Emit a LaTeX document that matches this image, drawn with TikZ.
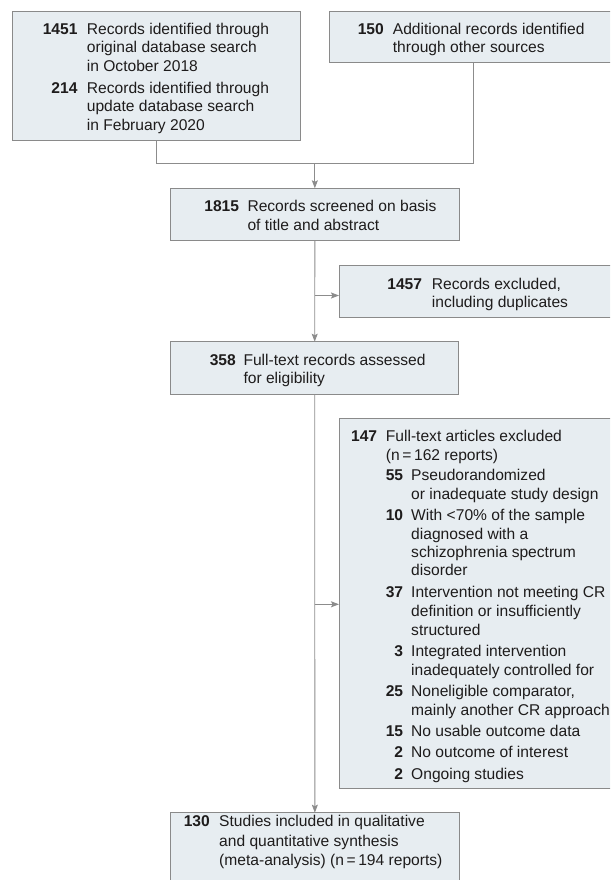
\documentclass[tikz,border=0pt]{standalone}
\usepackage{fontspec}
\setmainfont{Liberation Sans}
\usetikzlibrary{arrows.meta}
\definecolor{boxfill}{RGB}{231,237,241}
\definecolor{boxline}{RGB}{138,138,138}
\definecolor{conn}{RGB}{140,140,140}
\definecolor{ink}{RGB}{30,28,28}
\begin{document}
\begin{tikzpicture}[x=1pt,y=-1pt,
  box/.style={draw=boxline, fill=boxfill, line width=0.9pt, anchor=north west, inner sep=0pt, outer sep=0pt},
  link/.style={draw=conn, line width=0.9pt},
  arr/.style={link, -{Stealth[length=8pt,width=6pt,inset=1.5pt]}},
  num/.style={anchor=base east, inner sep=0pt, text=ink, font=\fontsize{15.6}{18}\selectfont\bfseries},
  txt/.style={anchor=base west, inner sep=0pt, text=ink, font=\fontsize{15.6}{18}\selectfont}]
\useasboundingbox (0,0) rectangle (610,880);
\clip (0,0) rectangle (610,880);
% boxes
\node[box, minimum width=288pt, minimum height=129pt] (b1) at (12,11) {};
\node[box, minimum width=287.7pt, minimum height=51.7pt] (b2) at (329.3,11) {};
\node[box, minimum width=288.3pt, minimum height=51.7pt] (b3) at (170.7,188.3) {};
\node[box, minimum width=278pt, minimum height=52pt] (b4) at (339,265) {};
\node[box, minimum width=288pt, minimum height=52.3pt] (b5) at (170.7,341.7) {};
\node[box, minimum width=278pt, minimum height=369.6pt] (b6) at (339,418.7) {};
\node[box, minimum width=288.3pt, minimum height=80pt] (b7) at (170.7,812.7) {};
% connectors
\coordinate (j) at (b3.north |- 0,163.3);
\draw[link] (b1.south) |- (j);
\draw[link] (b2.south) |- (j);
\draw[arr] (j) -- (b3.north);
\draw[arr] (b3.south) -- (b5.north);
\coordinate (k1) at (b3.south |- 0,295.5);
\draw[arr] (k1) -- (k1 -| b4.west);
\draw[arr] (b5.south) -- (b7.north);
\coordinate (k2) at (b5.south |- 0,604.3);
\draw[arr] (k2) -- (k2 -| b6.west);
% box 1
\node[num] (n1) at (77.7,34.3) {1451};
\node[txt] (t1a) at (86.7,34.3) {Records identified through};
\node[txt] (t1b) at (86.7,53) {original database search};
\node[txt] (t1c) at (86.7,71.3) {in October 2018};
\node[num] (n2) at (77.7,93.3) {214};
\node[txt] (t2a) at (86.7,93.3) {Records identified through};
\node[txt] (t2b) at (86.7,111.7) {update database search};
\node[txt] (t2c) at (86.7,130) {in February 2020};
% box 2
\node[num] (n3) at (384,34.3) {150};
\node[txt] (t3a) at (392.7,34.3) {Additional records identified};
\node[txt] (t3b) at (392.7,53) {through other sources};
% box 3
\node[num] (n4) at (239.3,211.7) {1815};
\node[txt] (t4a) at (247.3,211.7) {Records screened on basis};
\node[txt] (t4b) at (247.3,230) {of title and abstract};
% box 4
\node[num] (n5) at (422.3,289.3) {1457};
\node[txt] (t5a) at (431.7,289.3) {Records excluded,};
\node[txt] (t5b) at (431.7,307.7) {including duplicates};
% box 5
\node[num] (n6) at (236,365) {358};
\node[txt] (t6a) at (243.3,365) {Full-text records assessed};
\node[txt] (t6b) at (243.3,383.3) {for eligibility};
% box 6
\node[num] (n7) at (377.3,441.7) {147};
\node[txt] (t7a) at (385.7,441.7) {Full-text articles excluded};
\node[txt] (t7b) at (385.7,460) {(n\,=\,162 reports)};
\node[num] (n8) at (403.3,480) {55};
\node[txt] (t8a) at (411,480) {Pseudorandomized};
\node[txt] (t8b) at (411,499.3) {or inadequate study design};
\node[num] (n9) at (403.3,520) {10};
\node[txt] (t9a) at (411,520) {With <70\% of the sample};
\node[txt] (t9b) at (411,539) {diagnosed with a};
\node[txt] (t9c) at (411,557.3) {schizophrenia spectrum};
\node[txt] (t9d) at (411,575.7) {disorder};
\node[num] (n10) at (403.3,597.7) {37};
\node[txt] (t10a) at (411,597.7) {Intervention not meeting CR};
\node[txt] (t10b) at (411,616.7) {definition or insufficiently};
\node[txt] (t10c) at (411,635.7) {structured};
\node[num] (n11) at (403.3,656.7) {3};
\node[txt] (t11a) at (411,656.7) {Integrated intervention};
\node[txt] (t11b) at (411,675.7) {inadequately controlled for};
\node[num] (n12) at (403.3,696.7) {25};
\node[txt] (t12a) at (411,696.7) {Noneligible comparator,};
\node[txt] (t12b) at (411,715.7) {mainly another CR approach};
\node[num] (n13) at (403.3,736.7) {15};
\node[txt] (t13a) at (411,736.7) {No usable outcome data};
\node[num] (n14) at (403.3,757.7) {2};
\node[txt] (t14a) at (411,757.7) {No outcome of interest};
\node[num] (n15) at (403.3,779) {2};
\node[txt] (t15a) at (411,779) {Ongoing studies};
% box 7
\node[num] (n16) at (210,826.7) {130};
\node[txt] (t16a) at (219,826.7) {Studies included in qualitative};
\node[txt] (t16b) at (219,846) {and quantitative synthesis};
\node[txt] (t16c) at (219,865.3) {(meta-analysis) (n\,=\,194 reports)};
\end{tikzpicture}
\end{document}
